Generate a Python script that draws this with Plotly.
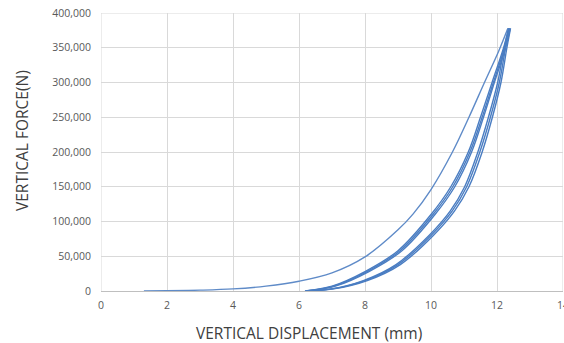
import plotly.graph_objects as go

# ---- data ----
x_ticks = [0, 2, 4, 6, 8, 10, 12, 14]
y_ticks = [0, 50000, 100000, 150000, 200000, 250000, 300000, 350000, 400000]

# first loading (outer curve)
load1_x = [1.3, 2.0, 3.0, 4.0, 5.0, 6.0, 7.0, 8.0, 9.0, 9.46, 10.0, 10.65, 11.15, 11.62, 12.05, 12.33]
load1_y = [0, 300, 1200, 3000, 7000, 14000, 26000, 49000, 88000, 111000, 146000, 200000, 250000, 300000, 345000, 378000]

# unloading branches (inner band)
unload_a_x = [12.38, 12.26, 12.07, 11.8, 11.48, 11.08, 10.64, 10.0, 9.0, 8.0, 7.0, 6.2]
unload_a_y = [378000, 350000, 300000, 250000, 200000, 150000, 115000, 80000, 38000, 15000, 3000, 0]
unload_b_x = [12.41, 12.3, 12.12, 11.86, 11.55, 11.15, 10.71, 10.07, 9.07, 8.07, 7.05, 6.23]
unload_b_y = [378000, 350000, 300000, 250000, 200000, 150000, 115000, 80000, 38000, 15000, 3000, 0]
unload_c_x = [12.36, 12.22, 12.02, 11.74, 11.42, 11.02, 10.58, 9.94, 8.94, 7.95, 6.97, 6.2]
unload_c_y = [378000, 350000, 300000, 250000, 200000, 150000, 115000, 80000, 38000, 15000, 3000, 0]

# reloading branches (middle band)
reload_a_x = [6.18, 7.0, 8.0, 9.0, 10.0, 10.6, 11.13, 11.5, 11.85, 12.2, 12.35]
reload_a_y = [0, 7000, 28000, 58000, 110000, 150000, 200000, 250000, 300000, 350000, 378000]
reload_b_x = [6.2, 7.05, 8.06, 9.06, 10.06, 10.66, 11.18, 11.55, 11.89, 12.23, 12.38]
reload_b_y = [0, 7000, 28000, 58000, 110000, 150000, 200000, 250000, 300000, 350000, 378000]
reload_c_x = [6.22, 7.1, 8.12, 9.12, 10.12, 10.72, 11.23, 11.59, 11.92, 12.26, 12.4]
reload_c_y = [0, 7000, 28000, 58000, 110000, 150000, 200000, 250000, 300000, 350000, 378000]

LINE = "#4a7dc2"
FONT = "Open Sans, Lato, sans-serif"
GRID = "#d9d9d9"

fig = go.Figure()

fig.add_trace(go.Scatter(x=load1_x, y=load1_y, mode="lines",
                         line=dict(color="#5f8bc8", width=1.4, shape="spline", smoothing=1.0),
                         showlegend=False, hoverinfo="skip"))

for xs, ys in [(unload_a_x, unload_a_y), (unload_b_x, unload_b_y), (unload_c_x, unload_c_y),
               (reload_a_x, reload_a_y), (reload_b_x, reload_b_y), (reload_c_x, reload_c_y)]:
    fig.add_trace(go.Scatter(x=xs, y=ys, mode="lines",
                             line=dict(color=LINE, width=1.4, shape="spline", smoothing=1.0),
                             showlegend=False, hoverinfo="skip"))

tickfont = dict(family=FONT, size=10.5, color="#595959")

fig.update_xaxes(range=[0, 14], tickvals=x_ticks, ticktext=[str(v) for v in x_ticks],
                 showgrid=True, gridcolor=GRID, gridwidth=1,
                 zeroline=False, showline=True, linecolor="#bfbfbf", linewidth=1,
                 ticks="", tickfont=tickfont, ticklabelstandoff=4, ticklabeloverflow="allow")
fig.update_yaxes(range=[0, 400000], tickvals=y_ticks, tickformat=",d",
                 showgrid=True, gridcolor=GRID, gridwidth=1,
                 zeroline=False, showline=False,
                 ticks="", tickfont=tickfont, ticklabelstandoff=9, ticklabeloverflow="allow")

# gridlines on the plot edges (plotly drops grid lines lying on the frame)
fig.add_shape(type="line", xref="x", yref="y", x0=x_ticks[0], x1=x_ticks[-1],
              y0=y_ticks[-1], y1=y_ticks[-1], line=dict(color=GRID, width=1), layer="below")
fig.add_shape(type="line", xref="x", yref="y", x0=x_ticks[-1], x1=x_ticks[-1],
              y0=y_ticks[0], y1=y_ticks[-1], line=dict(color=GRID, width=1), layer="below")
fig.add_shape(type="line", xref="x", yref="y", x0=x_ticks[0], x1=x_ticks[0],
              y0=y_ticks[0], y1=y_ticks[-1], line=dict(color=GRID, width=1), layer="below")

W, H = 564, 343
PL, PT, PW, PH = 101, 13, 462, 278

fig.add_annotation(text="VERTICAL DISPLACEMENT (mm)", xref="paper", yref="paper",
                   x=(309 - PL) / PW, y=-(332.5 - (PT + PH)) / PH, showarrow=False,
                   xanchor="center", yanchor="middle",
                   font=dict(family=FONT, size=15.5, color="#404040"))
fig.add_annotation(text="VERTICAL FORCE(N)", xref="paper", yref="paper",
                   x=(22 - PL) / PW, y=((PT + PH) - 141) / PH, showarrow=False, textangle=-90,
                   xanchor="center", yanchor="middle",
                   font=dict(family=FONT, size=15.5, color="#404040"))

fig.update_layout(width=W, height=H,
                  margin=dict(l=PL, r=W - PL - PW, t=PT, b=H - PT - PH, autoexpand=False),
                  paper_bgcolor="white", plot_bgcolor="white", hovermode=False)

fig.write_html("out.html", config={"displayModeBar": False, "staticPlot": True},
               post_script="document.body.style.margin='0px';document.body.style.overflow='hidden';")
